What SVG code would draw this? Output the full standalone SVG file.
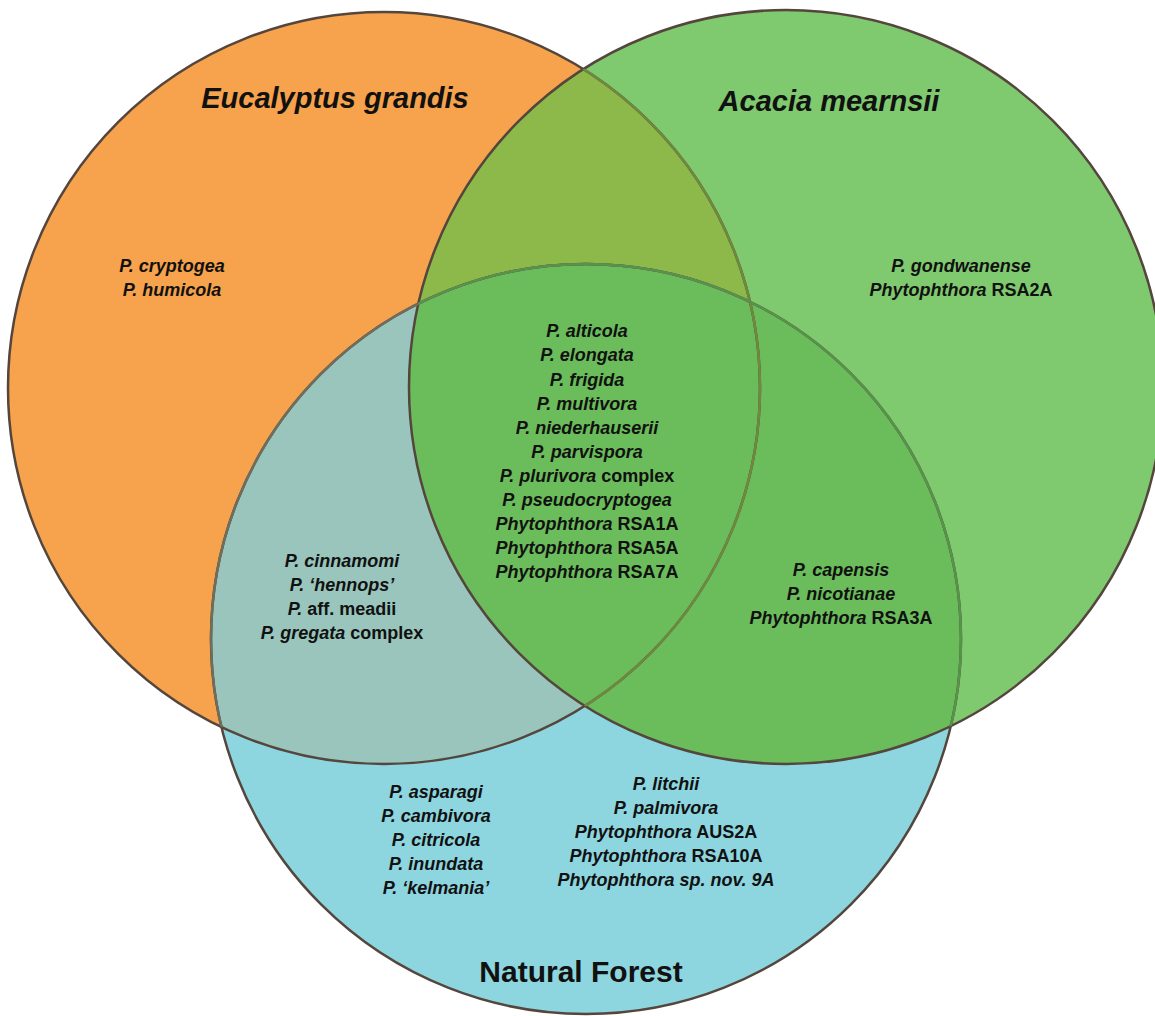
<svg xmlns="http://www.w3.org/2000/svg" width="1155" height="1016" viewBox="0 0 1155 1016">
<style>
.t{font-family:"Liberation Sans",Arial,sans-serif;font-weight:bold;font-style:italic;font-size:18px;fill:#111;text-anchor:middle}
.u{font-style:normal}
.title{font-size:29px}
.nf{font-family:"Liberation Sans",Arial,sans-serif;font-weight:bold;font-size:30px;fill:#111;text-anchor:middle}
.ol{fill:none;stroke:#54463d;stroke-width:2.5}
</style>
<defs>
<circle id="cO" cx="384" cy="388" r="376"/>
<circle id="cG" cx="786" cy="387" r="377"/>
<circle id="cB" cx="586" cy="639" r="375"/>
<clipPath id="clipO"><use href="#cO"/></clipPath>
<clipPath id="clipG"><use href="#cG"/></clipPath>
<clipPath id="clipB"><use href="#cB"/></clipPath>
</defs>
<rect width="1155" height="1016" fill="#ffffff"/>
<g id="eucalyptus">
<use href="#cO" fill="#F7A24C"/>
</g>
<g id="acacia">
<use href="#cG" fill="#7FC96F"/>
<use href="#cG" fill="#8DB94A" clip-path="url(#clipO)"/>
</g>
<g id="forest">
<use href="#cB" fill="#8DD6E0"/>
<use href="#cB" fill="#99C5BC" clip-path="url(#clipO)"/>
<use href="#cB" fill="#6BBD5C" clip-path="url(#clipG)"/>
<g clip-path="url(#clipO)"><use href="#cB" fill="#6BBD5B" clip-path="url(#clipG)"/></g>
</g>
<g id="outlines">
<use href="#cO" class="ol"/>
<use href="#cG" class="ol"/>
<use href="#cB" class="ol"/>
<use href="#cO" class="ol" style="stroke:#6f8a3e" clip-path="url(#clipG)"/>
<use href="#cB" class="ol" style="stroke:#6f6e5c" clip-path="url(#clipO)"/>
<use href="#cB" class="ol" style="stroke:#58924b" clip-path="url(#clipG)"/>
</g>
<g id="labels-titles">
<text class="t title" x="335" y="108">Eucalyptus grandis</text>
<text class="t title" x="829" y="111">Acacia mearnsii</text>
<text class="nf" x="581" y="982">Natural Forest</text>
</g>
<g id="eucalyptus-only">
<text class="t" x="172" y="272">P. cryptogea</text>
<text class="t" x="172" y="296">P. humicola</text>
</g>
<g id="acacia-only">
<text class="t" x="961" y="272">P. gondwanense</text>
<text class="t" x="961" y="296"><tspan>Phytophthora</tspan><tspan class="u"> RSA2A</tspan></text>
</g>
<g id="all-three">
<text class="t" x="587" y="337">P. alticola</text>
<text class="t" x="587" y="361">P. elongata</text>
<text class="t" x="587" y="386">P. frigida</text>
<text class="t" x="587" y="410">P. multivora</text>
<text class="t" x="587" y="434">P. niederhauserii</text>
<text class="t" x="587" y="458">P. parvispora</text>
<text class="t" x="587" y="482"><tspan>P. plurivora</tspan><tspan class="u"> complex</tspan></text>
<text class="t" x="587" y="506">P. pseudocryptogea</text>
<text class="t" x="587" y="530"><tspan>Phytophthora</tspan><tspan class="u"> RSA1A</tspan></text>
<text class="t" x="587" y="554"><tspan>Phytophthora</tspan><tspan class="u"> RSA5A</tspan></text>
<text class="t" x="587" y="578"><tspan>Phytophthora</tspan><tspan class="u"> RSA7A</tspan></text>
</g>
<g id="eucalyptus-forest">
<text class="t" x="342" y="567">P. cinnamomi</text>
<text class="t" x="342" y="591">P. ‘hennops’</text>
<text class="t" x="342" y="615"><tspan>P.</tspan><tspan class="u"> aff. meadii</tspan></text>
<text class="t" x="342" y="639"><tspan>P. gregata</tspan><tspan class="u"> complex</tspan></text>
</g>
<g id="acacia-forest">
<text class="t" x="841" y="576">P. capensis</text>
<text class="t" x="841" y="600">P. nicotianae</text>
<text class="t" x="841" y="624"><tspan>Phytophthora</tspan><tspan class="u"> RSA3A</tspan></text>
</g>
<g id="forest-only-left">
<text class="t" x="436" y="798">P. asparagi</text>
<text class="t" x="436" y="822">P. cambivora</text>
<text class="t" x="436" y="846">P. citricola</text>
<text class="t" x="436" y="870">P. inundata</text>
<text class="t" x="436" y="894">P. ‘kelmania’</text>
</g>
<g id="forest-only-right">
<text class="t" x="666" y="790">P. litchii</text>
<text class="t" x="666" y="814">P. palmivora</text>
<text class="t" x="666" y="838"><tspan>Phytophthora</tspan><tspan class="u"> AUS2A</tspan></text>
<text class="t" x="666" y="862"><tspan>Phytophthora</tspan><tspan class="u"> RSA10A</tspan></text>
<text class="t" x="666" y="886">Phytophthora sp. nov. 9A</text>
</g>
</svg>
